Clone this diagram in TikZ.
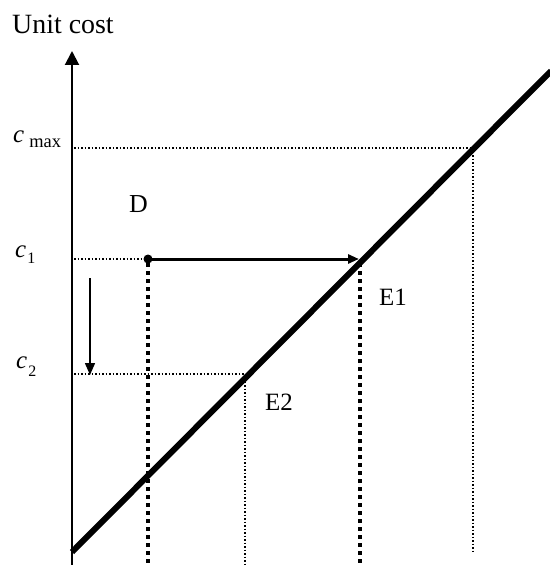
\documentclass[tikz,border=0pt]{standalone}
\usepackage{fontspec}
\setmainfont{Liberation Serif}
\usetikzlibrary{arrows.meta}
\begin{document}
\begin{tikzpicture}[x=1bp,y=-1bp,
  axisline/.style={line width=2bp},
  costline/.style={line width=6bp},
  thindot/.style={line width=1.1bp, dash pattern=on 1.5bp off 2bp},
  thickdot/.style={line width=3.5bp, dash pattern=on 4bp off 4bp},
  lbl/.style={inner sep=0pt, anchor=base west, font=\fontsize{26}{28}\selectfont},
  clbl/.style={inner sep=0pt, anchor=base west, font=\fontsize{25}{27}\selectfont}]
\useasboundingbox (0,0) rectangle (550,565);
% axis
\coordinate (O) at (72,565);
\coordinate (Ytop) at (72,51);
\draw[axisline, -{Triangle[length=14bp,width=14bp]}] (O) -- (Ytop);
% cost line
\coordinate (L0) at (72,552);
\coordinate (L1) at (551,71);
\draw[costline] (L0) -- (L1);
% c max
\coordinate (Cmax) at (74,148);
\coordinate (Pmax) at (473,148);
\coordinate (Bmax) at (473,552);
\draw[thindot] (Cmax) -- (Pmax) -- (Bmax);
% c1
\coordinate (C1) at (74,259);
\node[circle, fill, inner sep=0pt, minimum size=9bp] (Dot) at (148,259) {};
\coordinate (E1p) at (359,259);
\draw[thindot] (C1) -- (Dot.center);
\draw[line width=3bp, -{Triangle[length=11bp,width=9bp]}] (Dot.center) -- (E1p);
\coordinate (DotB) at (148,565);
\coordinate (E1t) at (360,263);
\coordinate (E1b) at (360,565);
\draw[thickdot] ([yshift=4bp]Dot.center) -- (DotB);
\draw[thickdot] (E1t) -- (E1b);
% c2
\coordinate (C2) at (74,374);
\coordinate (E2p) at (245,374);
\coordinate (E2b) at (245,565);
\draw[thindot] (C2) -- (E2p) -- (E2b);
% down arrow
\coordinate (A0) at (90,278);
\coordinate (A1) at (90,375);
\draw[line width=1.5bp, -{Triangle[length=12bp,width=10bp]}] (A0) -- (A1);
% labels
\node[lbl, font=\fontsize{28}{30}\selectfont] (ylab) at (12,34) {Unit cost};
\node[clbl] (lmax) at (13,143) {\textit{c}\raisebox{-5bp}{\hspace{5bp}\fontsize{18.5}{19}\selectfont max}};
\node[clbl] (l1) at (15,257) {\textit{c}\raisebox{-6bp}{\hspace{1bp}\fontsize{16}{17}\selectfont 1}};
\node[clbl] (l2) at (16,368) {\textit{c}\raisebox{-8bp}{\hspace{1bp}\fontsize{16}{17}\selectfont 2}};
\node[lbl] (D) at (129,212) {D};
\node[lbl, font=\fontsize{25}{27}\selectfont] (E1) at (379,305) {E1};
\node[lbl, font=\fontsize{25}{27}\selectfont] (E2) at (265,410) {E2};
\end{tikzpicture}
\end{document}
